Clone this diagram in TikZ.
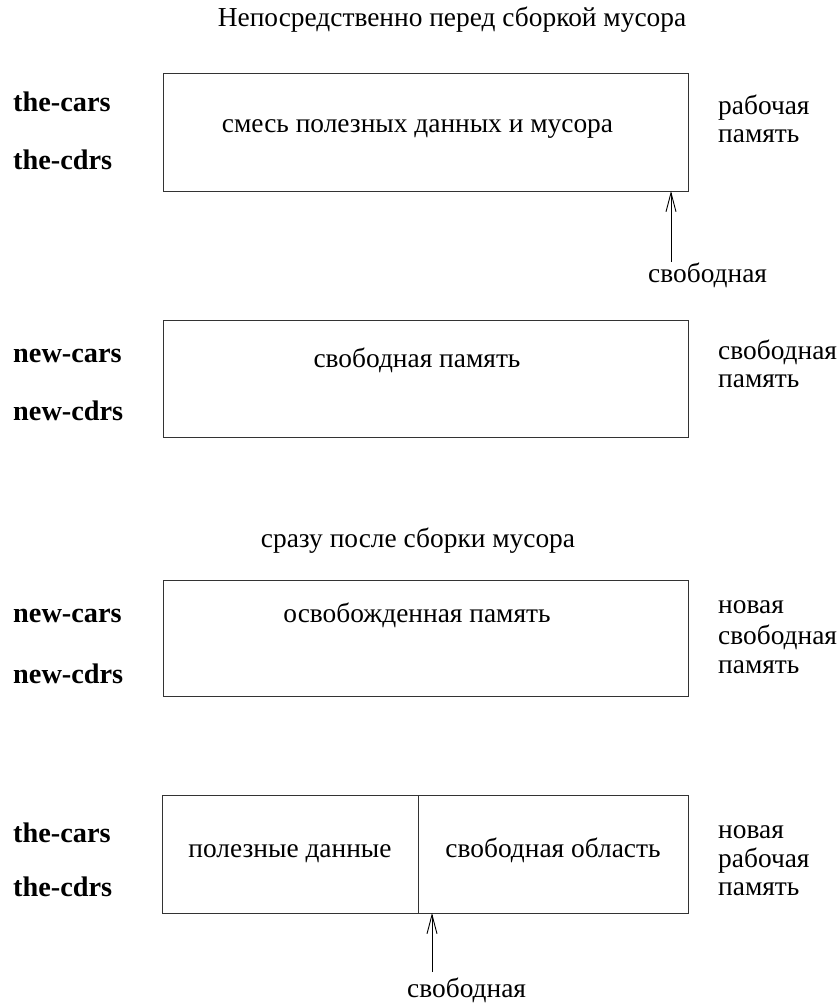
\documentclass[tikz,border=0pt]{standalone}
\usepackage{fontspec}
\setmainfont{Liberation Serif}
\usetikzlibrary{arrows.meta}
\tikzset{
  mem/.style={draw=black!80, line width=0.9pt},
  lbl/.style={font=\fontsize{27.4}{30}\selectfont, inner sep=0pt, anchor=base},
  reg/.style={font=\fontsize{28.3}{30}\selectfont\bfseries, anchor=base west, inner sep=0pt},
  side/.style={font=\fontsize{27.4}{30}\selectfont, anchor=base west, inner sep=0pt},
  arr/.style={line width=0.9pt, -{Straight Barb[length=19pt,width=10pt,line width=0.9pt]}}
}
\begin{document}
\begin{tikzpicture}[x=1pt,y=-1pt]
\useasboundingbox (0,0) rectangle (839,1003);
% titles
\node[lbl] (t1) at (452,27) {Непосредственно перед сборкой мусора};
\node[lbl] (t2) at (418,547) {сразу после сборки мусора};
% box 1
\draw[mem] (163,73) rectangle (688,191);
\coordinate (b1s) at (688,191);
\node[lbl] (b1t) at (417.5,133) {смесь полезных данных и мусора};
\node[reg] (l1a) at (13,112) {the-cars};
\node[reg] (l1b) at (13,170) {the-cdrs};
\node[side] (r1a) at (718,115) {рабочая};
\node[side] (r1b) at (718,143) {память};
\coordinate (f1) at (671,262);
\node[side] (s1) at (648,282) {свободная};
\draw[arr] (f1) -- (f1 |- b1s);
% box 2
\draw[mem] (163,320) rectangle (688,437);
\node[lbl] (b2t) at (417,367) {свободная память};
\node[reg] (l2a) at (13,362) {new-cars};
\node[reg] (l2b) at (13,420) {new-cdrs};
\node[side] (r2a) at (718,359) {свободная};
\node[side] (r2b) at (718,387) {память};
% box 3
\draw[mem] (163,580) rectangle (688,696);
\node[lbl] (b3t) at (417,622) {освобожденная память};
\node[reg] (l3a) at (13,622) {new-cars};
\node[reg] (l3b) at (13,683) {new-cdrs};
\node[side] (r3a) at (718,613) {новая};
\node[side] (r3b) at (718,644) {свободная};
\node[side] (r3c) at (718,673) {память};
% box 4
\draw[mem] (162,795) rectangle (688,913);
\draw[mem] (418,795) -- (418,913);
\coordinate (b4s) at (418,913);
\node[lbl] (b4at) at (290,857) {полезные данные};
\node[lbl] (b4bt) at (553,857) {свободная область};
\node[reg] (l4a) at (13,842) {the-cars};
\node[reg] (l4b) at (13,896) {the-cdrs};
\node[side] (r4a) at (718,838) {новая};
\node[side] (r4b) at (718,867) {рабочая};
\node[side] (r4c) at (718,895) {память};
\coordinate (f2) at (432,972);
\node[side] (s2) at (407,997) {свободная};
\draw[arr] (f2) -- (f2 |- b4s);
\end{tikzpicture}
\end{document}
